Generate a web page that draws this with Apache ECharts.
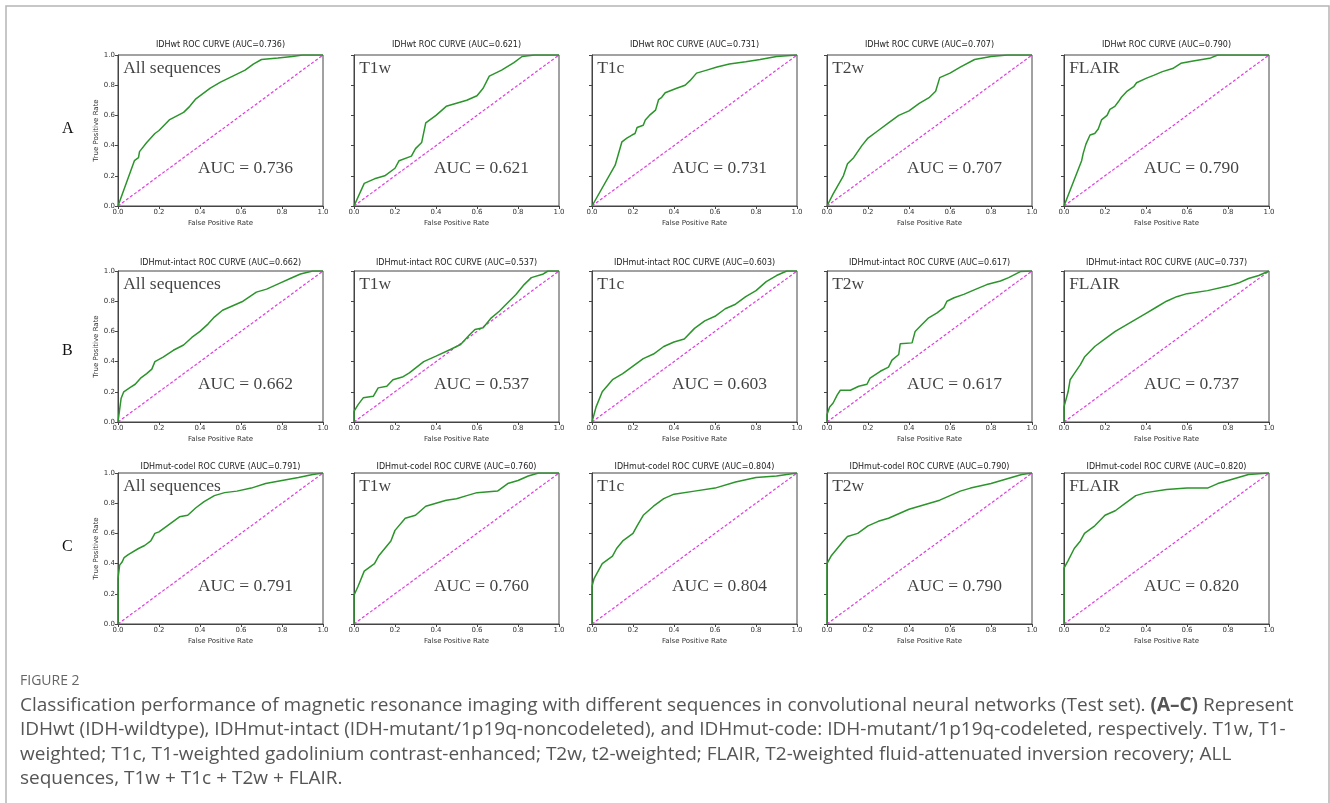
<!DOCTYPE html>
<html>
<head>
<meta charset="utf-8">
<script src="https://cdn.jsdelivr.net/npm/echarts@6/dist/echarts.min.js"></script>
<style>
  html, body { margin: 0; padding: 0; background: #fff; }
  #chart { width: 1330px; height: 803px; }
</style>
</head>
<body>
<div id="chart"></div>
<script>
// ---- data ----
const rowLetters = ['A', 'B', 'C']
const classNames = ['IDHwt', 'IDHmut-intact', 'IDHmut-codel']
const seqNames = ['All sequences', 'T1w', 'T1c', 'T2w', 'FLAIR']
const aucA = [0.736, 0.621, 0.731, 0.707, 0.790]
const aucB = [0.662, 0.537, 0.603, 0.617, 0.737]
const aucC = [0.791, 0.760, 0.804, 0.790, 0.820]
const chanceLine = [[0, 0], [1, 1]]

// ROC curves, [false positive rate, true positive rate]
const wtAll = [[0,0],[0.08,0.30],[0.10,0.32],[0.105,0.36],[0.14,0.42],[0.18,0.48],[0.20,0.50],[0.25,0.57],[0.32,0.62],[0.35,0.66],[0.38,0.71],[0.45,0.78],[0.50,0.82],[0.56,0.86],[0.62,0.90],[0.66,0.94],[0.70,0.97],[0.78,0.98],[0.85,0.99],[0.90,1.0],[1,1]]
const wtT1w = [[0,0],[0.05,0.15],[0.10,0.18],[0.15,0.20],[0.20,0.25],[0.22,0.30],[0.28,0.33],[0.30,0.38],[0.33,0.42],[0.35,0.55],[0.40,0.60],[0.45,0.66],[0.50,0.68],[0.55,0.70],[0.60,0.73],[0.63,0.78],[0.66,0.86],[0.72,0.90],[0.78,0.95],[0.82,0.99],[0.88,1.0],[1,1]]
const wtT1c = [[0,0],[0.113,0.27],[0.146,0.425],[0.17,0.45],[0.195,0.47],[0.21,0.48],[0.22,0.52],[0.25,0.535],[0.26,0.57],[0.28,0.60],[0.31,0.635],[0.325,0.705],[0.34,0.72],[0.357,0.75],[0.413,0.78],[0.454,0.80],[0.478,0.83],[0.51,0.88],[0.56,0.90],[0.61,0.92],[0.67,0.94],[0.75,0.955],[0.82,0.97],[0.90,0.99],[1,1]]
const wtT2w = [[0,0],[0.03,0.08],[0.08,0.20],[0.10,0.28],[0.13,0.32],[0.17,0.40],[0.20,0.45],[0.25,0.50],[0.30,0.55],[0.35,0.60],[0.40,0.63],[0.45,0.68],[0.50,0.72],[0.53,0.76],[0.55,0.85],[0.60,0.88],[0.65,0.92],[0.72,0.97],[0.80,0.99],[0.88,1.0],[1,1]]
const wtFlair = [[0,0],[0.086,0.30],[0.094,0.35],[0.107,0.41],[0.127,0.47],[0.15,0.48],[0.167,0.51],[0.183,0.57],[0.21,0.60],[0.224,0.64],[0.248,0.66],[0.265,0.69],[0.28,0.72],[0.305,0.757],[0.34,0.79],[0.354,0.816],[0.40,0.845],[0.44,0.867],[0.48,0.89],[0.53,0.91],[0.57,0.945],[0.63,0.96],[0.71,0.978],[0.75,1.0],[1,1]]

const intactAll = [[0,0],[0.015,0.155],[0.028,0.20],[0.06,0.23],[0.084,0.25],[0.11,0.29],[0.14,0.32],[0.165,0.35],[0.18,0.40],[0.22,0.43],[0.27,0.475],[0.32,0.51],[0.36,0.56],[0.40,0.60],[0.44,0.65],[0.47,0.695],[0.51,0.74],[0.56,0.77],[0.61,0.80],[0.675,0.86],[0.725,0.88],[0.79,0.92],[0.84,0.95],[0.89,0.98],[0.95,1.0],[1,1]]
const intactT1w = [[0,0],[0,0.07],[0.02,0.115],[0.045,0.16],[0.094,0.17],[0.118,0.226],[0.16,0.237],[0.19,0.28],[0.24,0.30],[0.27,0.325],[0.34,0.40],[0.40,0.436],[0.47,0.48],[0.52,0.513],[0.565,0.58],[0.59,0.613],[0.63,0.624],[0.67,0.69],[0.71,0.735],[0.735,0.77],[0.79,0.845],[0.83,0.91],[0.865,0.956],[0.92,0.978],[0.946,1.0],[1,1]]
const intactT1c = [[0,0],[0.02,0.10],[0.05,0.20],[0.10,0.28],[0.15,0.32],[0.20,0.37],[0.25,0.42],[0.30,0.45],[0.35,0.50],[0.40,0.53],[0.45,0.55],[0.50,0.62],[0.55,0.67],[0.60,0.70],[0.65,0.75],[0.70,0.78],[0.75,0.83],[0.80,0.87],[0.85,0.93],[0.90,0.97],[0.95,1.0],[1,1]]
const intactT2w = [[0,0],[0,0.05],[0.013,0.10],[0.03,0.126],[0.05,0.18],[0.065,0.21],[0.114,0.21],[0.155,0.237],[0.195,0.25],[0.21,0.29],[0.26,0.336],[0.30,0.363],[0.317,0.41],[0.35,0.447],[0.357,0.518],[0.415,0.524],[0.43,0.60],[0.463,0.646],[0.496,0.69],[0.537,0.723],[0.57,0.757],[0.585,0.80],[0.62,0.823],[0.667,0.845],[0.724,0.878],[0.78,0.91],[0.846,0.934],[0.886,0.956],[0.943,0.996],[1,1]]
const intactFlair = [[0,0],[0,0.10],[0.02,0.20],[0.03,0.28],[0.05,0.32],[0.08,0.38],[0.10,0.43],[0.15,0.50],[0.20,0.55],[0.25,0.60],[0.30,0.64],[0.35,0.68],[0.40,0.72],[0.45,0.76],[0.50,0.80],[0.55,0.83],[0.60,0.85],[0.70,0.87],[0.80,0.90],[0.85,0.92],[0.90,0.95],[0.95,0.97],[1,1]]

const codelAll = [[0,0],[0,0.30],[0.008,0.39],[0.02,0.41],[0.03,0.44],[0.05,0.46],[0.10,0.50],[0.13,0.52],[0.16,0.55],[0.18,0.60],[0.20,0.61],[0.23,0.64],[0.27,0.68],[0.30,0.71],[0.34,0.72],[0.38,0.77],[0.42,0.81],[0.47,0.85],[0.52,0.87],[0.58,0.88],[0.65,0.90],[0.72,0.93],[0.80,0.95],[0.88,0.97],[0.95,0.99],[1,1]]
const codelT1w = [[0,0],[0,0.19],[0.02,0.25],[0.05,0.35],[0.10,0.40],[0.12,0.45],[0.15,0.50],[0.18,0.55],[0.20,0.62],[0.25,0.70],[0.30,0.72],[0.35,0.78],[0.40,0.80],[0.45,0.82],[0.50,0.83],[0.55,0.85],[0.60,0.87],[0.70,0.88],[0.75,0.93],[0.80,0.95],[0.85,0.98],[0.90,1.0],[1,1]]
const codelT1c = [[0,0],[0,0.25],[0.01,0.30],[0.03,0.35],[0.05,0.40],[0.10,0.45],[0.12,0.50],[0.15,0.55],[0.20,0.60],[0.22,0.65],[0.25,0.72],[0.30,0.78],[0.35,0.83],[0.40,0.86],[0.50,0.88],[0.60,0.90],[0.70,0.94],[0.80,0.97],[0.90,0.98],[1,1]]
const codelT2w = [[0,0],[0,0.40],[0.02,0.45],[0.05,0.50],[0.08,0.55],[0.10,0.58],[0.15,0.60],[0.20,0.65],[0.25,0.68],[0.30,0.70],[0.35,0.73],[0.40,0.76],[0.45,0.78],[0.50,0.80],[0.55,0.82],[0.60,0.85],[0.65,0.88],[0.70,0.90],[0.80,0.93],[0.90,0.97],[0.95,0.99],[1,1]]
const codelFlair = [[0,0],[0,0.37],[0.02,0.42],[0.05,0.50],[0.08,0.55],[0.10,0.60],[0.15,0.65],[0.20,0.72],[0.25,0.75],[0.30,0.80],[0.35,0.85],[0.40,0.87],[0.50,0.89],[0.60,0.90],[0.70,0.90],[0.75,0.93],[0.80,0.95],[0.85,0.97],[0.90,0.99],[1,1]]

const curves = [
  [wtAll, wtT1w, wtT1c, wtT2w, wtFlair],
  [intactAll, intactT1w, intactT1c, intactT2w, intactFlair],
  [codelAll, codelT1w, codelT1c, codelT2w, codelFlair]
]
const aucRows = [aucA, aucB, aucC]

const captionHead = 'FIGURE 2'
const captionLines = [
  ['Classification performance of magnetic resonance imaging with different sequences in convolutional neural networks (Test set). ', '(A–C)', ' Represent'],
  ['IDHwt (IDH-wildtype), IDHmut-intact (IDH-mutant/1p19q-noncodeleted), and IDHmut-code: IDH-mutant/1p19q-codeleted, respectively. T1w, T1-'],
  ['weighted; T1c, T1-weighted gadolinium contrast-enhanced; T2w, t2-weighted; FLAIR, T2-weighted fluid-attenuated inversion recovery; ALL'],
  ['sequences, T1w + T1c + T2w + FLAIR.']
]

// ---- layout ----
const colLeft = [118, 354, 592, 827, 1064]
const rowTop = [55, 271, 473]
const plotW = 205
const plotH = 151
const titleOffset = [9, 7, 5]
const rowLetterY = [130, 352, 548]
const seqLabelPos = [0.025, 0.91]
const aucLabelPos = [0.39, 0.25]

const axisColor = '#444'
const tickText = { fontSize: 7, color: '#333', fontFamily: 'DejaVu Sans' }

const grids = [], xAxes = [], yAxes = [], series = [], titles = [], graphics = []

rowLetters.forEach((letter, r) => {
  colLeft.forEach((left, c) => {
    const i = grids.length
    grids.push({
      left: left, top: rowTop[r], width: plotW, height: plotH,
      show: true, borderColor: axisColor, borderWidth: 1, backgroundColor: '#fff'
    })
    xAxes.push({
      type: 'value', gridIndex: i, min: 0, max: 1, interval: 0.2,
      axisLine: { show: true, onZero: false, lineStyle: { color: axisColor, width: 1 } },
      axisTick: { show: true, length: 3, lineStyle: { color: axisColor } },
      axisLabel: { ...tickText, margin: 3, formatter: v => v.toFixed(1) },
      splitLine: { show: false },
      name: 'False Positive Rate', nameLocation: 'middle', nameGap: 14,
      nameTextStyle: { fontSize: 7, color: '#333', fontFamily: 'DejaVu Sans' }
    })
    yAxes.push({
      type: 'value', gridIndex: i, min: 0, max: 1, interval: 0.2,
      axisLine: { show: true, onZero: false, lineStyle: { color: axisColor, width: 1 } },
      axisTick: { show: true, length: 3, lineStyle: { color: axisColor } },
      axisLabel: { ...tickText, show: c === 0, margin: 3, formatter: v => v.toFixed(1) },
      splitLine: { show: false },
      name: c === 0 ? 'True Positive Rate' : '', nameLocation: 'middle', nameGap: 18,
      nameTextStyle: { fontSize: 7, color: '#333', fontFamily: 'DejaVu Sans' }
    })
    titles.push({
      text: classNames[r] + ' ROC CURVE (AUC=' + aucRows[r][c].toFixed(3) + ')',
      left: left + plotW / 2, top: rowTop[r] - titleOffset[r] - 5, textAlign: 'center',
      padding: 0,
      textStyle: { fontSize: 8, fontWeight: 'normal', color: '#222', fontFamily: 'DejaVu Sans' }
    })
    series.push({
      type: 'line', xAxisIndex: i, yAxisIndex: i, data: chanceLine,
      showSymbol: false, silent: true, z: 2,
      lineStyle: { color: '#e03be0', width: 1.2, type: [3, 2] }
    })
    series.push({
      type: 'line', xAxisIndex: i, yAxisIndex: i, data: curves[r][c],
      showSymbol: false, silent: true, z: 3,
      lineStyle: { color: '#2b952b', width: 1.5 }
    })
    const textLabel = (pos, text) => ({
      type: 'scatter', xAxisIndex: i, yAxisIndex: i, symbolSize: 0, silent: true, z: 4,
      itemStyle: { color: 'transparent' },
      data: [pos],
      label: {
        show: true, position: 'right', distance: 0, formatter: text,
        fontFamily: 'Liberation Serif', fontSize: 17.5, color: '#111'
      }
    })
    series.push(textLabel(seqLabelPos, seqNames[c]))
    series.push(textLabel(aucLabelPos, 'AUC = ' + aucRows[r][c].toFixed(3)))
  })
  graphics.push({
    type: 'text', left: 62, top: rowLetterY[r] - 9,
    style: { text: letter, font: '16px "Liberation Serif"', fill: '#111' }
  })
})

// outer frame
graphics.push({
  type: 'rect', shape: { x: 6, y: 6, width: 1323, height: 830 }, silent: true,
  style: { fill: 'none', stroke: '#b5b5b5', lineWidth: 1.5 }
})
graphics.push({
  type: 'text', left: 20, top: 674,
  style: { text: captionHead, font: '14px "Open Sans"', fill: '#666' }
})
captionLines.forEach((parts, k) => {
  const text = parts.length === 3
    ? '{n|' + parts[0] + '}{b|' + parts[1] + '}{n|' + parts[2] + '}'
    : '{n|' + parts[0] + '}'
  graphics.push({
    type: 'text', left: 20, top: 696 + k * 24.5,
    style: {
      text: text,
      rich: {
        n: { fontFamily: 'Open Sans', fontSize: 19, fill: '#555' },
        b: { fontFamily: 'Open Sans', fontSize: 19, fontWeight: 'bold', fill: '#555' }
      }
    }
  })
})

const chart = echarts.init(document.getElementById('chart'))
chart.setOption({
  animation: false,
  backgroundColor: '#fff',
  title: titles,
  grid: grids,
  xAxis: xAxes,
  yAxis: yAxes,
  series: series,
  graphic: graphics
})
</script>
</body>
</html>
